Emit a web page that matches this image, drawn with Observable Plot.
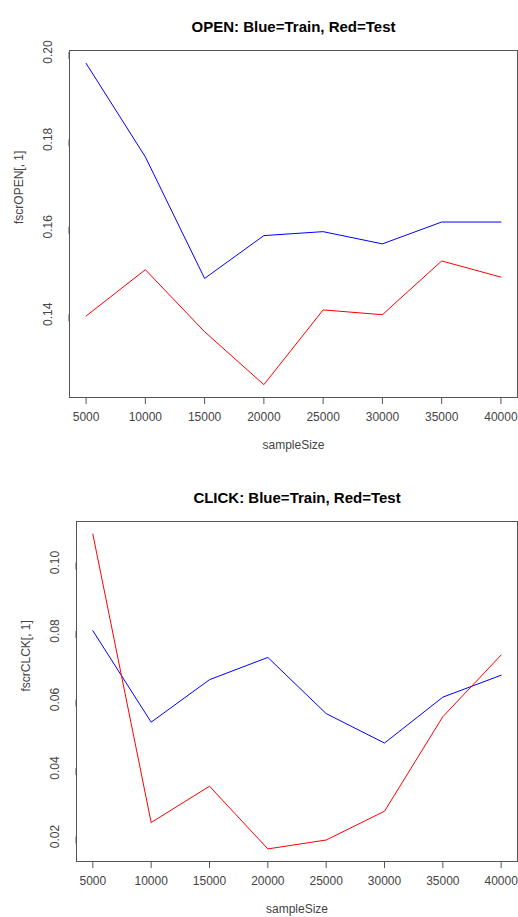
<!DOCTYPE html>
<html>
<head>
<meta charset="utf-8">
<script src="https://cdn.jsdelivr.net/npm/d3@7"></script>
<script src="https://cdn.jsdelivr.net/npm/@observablehq/plot@0.6"></script>
<style>
  html, body { margin: 0; padding: 0; background: #fff; }
  body { width: 518px; height: 917px; overflow: hidden; }
  svg { display: block; }
</style>
</head>
<body>
<div id="chart"></div>
<script>
const sampleSize = [5000, 10000, 15000, 20000, 25000, 30000, 35000, 40000];
const openTrain = [0.1974, 0.1760, 0.1482, 0.1580, 0.1589, 0.1561, 0.1611, 0.1611];
const openTest  = [0.1396, 0.1502, 0.1360, 0.1239, 0.1410, 0.1399, 0.1522, 0.1485];
const clickTrain = [0.0801, 0.0534, 0.0658, 0.0723, 0.0559, 0.0473, 0.0607, 0.0671];
const clickTest  = [0.1083, 0.0241, 0.0347, 0.0164, 0.0190, 0.0274, 0.0550, 0.0730];
const xTicks = [5000, 10000, 15000, 20000, 25000, 30000, 35000, 40000];
const openYTicks = [0.14, 0.16, 0.18, 0.20];
const clickYTicks = [0.02, 0.04, 0.06, 0.08, 0.10];

function rDomain(vals) {
  const [lo, hi] = d3.extent(vals);
  const e = (hi - lo) * 0.04;
  return [lo - e, hi + e];
}

function panel({title, yLabel, train, test, yTicks, height, marginLeft, marginTop, marginBottom}) {
  const rows = sampleSize.map((s, i) => ({s, train: train[i], test: test[i]}));
  return Plot.plot({
    width: 518,
    height,
    marginLeft,
    marginTop,
    marginBottom,
    marginRight: 1,
    style: {fontFamily: "'Liberation Sans', Arial, sans-serif", fontSize: "12px", color: "#333", background: "#fff"},
    x: {domain: rDomain(sampleSize), ticks: xTicks, axis: null},
    y: {domain: rDomain(train.concat(test)), axis: null},
    marks: [
      Plot.axisX({ticks: xTicks, tickSize: 7, tickPadding: 8, tickFormat: d3.format("d"), label: null, stroke: "#555", fill: "#444", fontSize: 12}),
      Plot.axisY({ticks: yTicks, tickSize: 7, tickPadding: 14, tickFormat: d3.format(".2f"), label: null, rotate: -90, textAnchor: "middle", stroke: "#555", fill: "#444", fontSize: 12}),
      Plot.frame({stroke: "#555", strokeWidth: 1}),
      Plot.line(rows, {x: "s", y: "train", stroke: "#0000ff", strokeWidth: 1}),
      Plot.line(rows, {x: "s", y: "test", stroke: "#ff0000", strokeWidth: 1}),
      Plot.text([title], {frameAnchor: "top", dy: -29, fontWeight: "bold", fontSize: 15, fill: "#000"}),
      Plot.text(["sampleSize"], {frameAnchor: "bottom", dy: 51, fontSize: 12, fill: "#444"}),
      Plot.text([yLabel], {frameAnchor: "left", dx: -50, rotate: -90, fontSize: 12, fill: "#444"})
    ]
  });
}

const chart = document.getElementById("chart");
chart.appendChild(panel({
  title: "OPEN: Blue=Train, Red=Test",
  yLabel: "fscrOPEN[, 1]",
  train: openTrain, test: openTest, yTicks: openYTicks,
  height: 460, marginLeft: 69, marginTop: 50, marginBottom: 63
}));
chart.appendChild(panel({
  title: "CLICK: Blue=Train, Red=Test",
  yLabel: "fscrCLCK[, 1]",
  train: clickTrain, test: clickTest, yTicks: clickYTicks,
  height: 457, marginLeft: 76, marginTop: 61, marginBottom: 56
}));
</script>
</body>
</html>
